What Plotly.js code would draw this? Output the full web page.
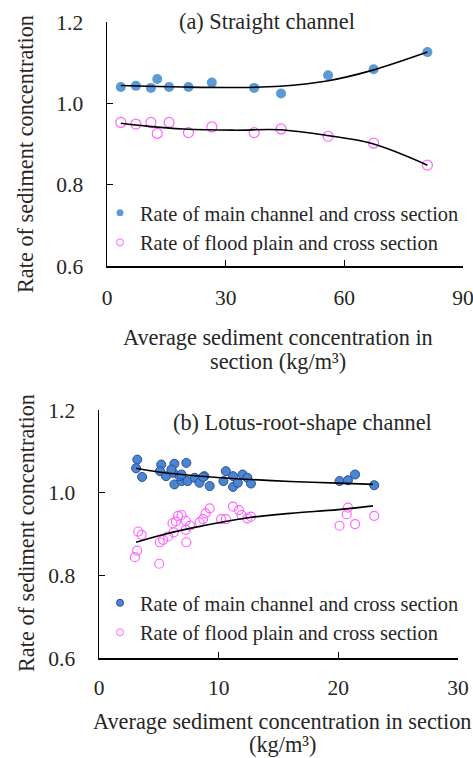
<!DOCTYPE html>
<html>
<head>
<meta charset="utf-8">
<script src="https://cdn.plot.ly/plotly-3.0.1.min.js"></script>
<style>html,body{margin:0;padding:0;background:#fff;}#chart{width:473px;height:758px;}</style>
</head>
<body>
<div id="chart"></div>
<script>
// ---- (a) Straight channel ----
var aX = [3.5, 7.3, 11.1, 12.7, 15.7, 20.6, 26.5, 37.2, 44.0, 55.9, 67.4, 81.0];
var aMain = [1.040, 1.043, 1.038, 1.060, 1.040, 1.040, 1.051, 1.038, 1.024, 1.069, 1.084, 1.126];
var aFlood = [0.953, 0.949, 0.953, 0.926, 0.953, 0.928, 0.942, 0.928, 0.937, 0.919, 0.902, 0.848];
var aTrendX = [3.5, 10, 19.3, 31.9, 43.7, 55.6, 67.0, 81.0];
var aTrendMain = [1.044, 1.042, 1.040, 1.039, 1.042, 1.055, 1.081, 1.126];
var aTrendFlood = [0.951, 0.944, 0.937, 0.934, 0.935, 0.921, 0.901, 0.848];

// ---- (b) Lotus-root-shape channel ----
var bMainX = [3.2, 3.1, 3.6, 5.2, 5.1, 6.3, 5.6, 6.2, 6.3, 6.9, 7.3, 6.75, 7.4, 8.0, 8.4, 8.8, 9.25, 10.6, 10.4, 11.2, 11.2, 12.0, 12.4, 12.7, 11.6, 20.1, 20.8, 21.4, 23.0, 6.05, 6.9, 8.7];
var bMainY = [1.080, 1.059, 1.038, 1.068, 1.052, 1.070, 1.040, 1.048, 1.020, 1.028, 1.072, 1.040, 1.028, 1.036, 1.024, 1.040, 1.016, 1.052, 1.028, 1.040, 1.014, 1.044, 1.036, 1.022, 1.024, 1.028, 1.030, 1.044, 1.018, 1.056, 1.044, 1.038];
var bFloodX = [3.28, 3.56, 3.19, 3.0, 5.03, 5.08, 5.36, 5.78, 6.14, 6.25, 6.42, 6.6, 6.9, 7.25, 7.25, 7.3, 7.6, 8.4, 8.7, 8.9, 9.25, 10.2, 10.6, 11.2, 11.7, 11.9, 12.4, 12.7, 20.1, 20.7, 20.8, 21.4, 23.0];
var bFloodY = [0.906, 0.898, 0.860, 0.844, 0.828, 0.880, 0.886, 0.894, 0.926, 0.904, 0.930, 0.944, 0.946, 0.932, 0.910, 0.880, 0.920, 0.928, 0.936, 0.950, 0.962, 0.936, 0.936, 0.966, 0.958, 0.946, 0.938, 0.942, 0.920, 0.948, 0.964, 0.924, 0.944];
var bTrendX = [3.1, 5, 8, 12.6, 16, 20, 22.9];
var bTrendMain = [1.059, 1.050, 1.041, 1.032, 1.027, 1.023, 1.020];
var bTrendFlood = [0.880, 0.896, 0.916, 0.940, 0.950, 0.959, 0.968];

var legendNames = ['Rate of main channel and cross section', 'Rate of flood plain and cross section'];
var yTicks = [0.6, 0.8, 1.0, 1.2];

var serif = "'Liberation Serif', 'Times New Roman', serif";
var pink = '#FF66FF';
var txt = '#262626';
var FS = 22.3;   // title text size
var LS = 20.4;   // legend text size
var TS = 21.5;   // tick size

function legendOnly(name, marker, leg) {
  return {x: [null], y: [null], type: 'scatter', mode: 'markers', name: name, legend: leg,
    xaxis: leg === 'legend' ? 'x' : 'x2', yaxis: leg === 'legend' ? 'y' : 'y2', marker: marker, hoverinfo: 'skip'};
}

var traces = [
  {x: aX, y: aMain, type: 'scatter', mode: 'markers', showlegend: false, xaxis: 'x', yaxis: 'y',
   marker: {size: 10, color: '#5B9BD5', line: {width: 0}}},
  {x: aX, y: aFlood, type: 'scatter', mode: 'markers', showlegend: false, xaxis: 'x', yaxis: 'y',
   marker: {size: 10, color: 'rgba(0,0,0,0)', line: {width: 1.2, color: pink}}},
  {x: aTrendX, y: aTrendMain, type: 'scatter', mode: 'lines', line: {color: '#000', width: 1.6, shape: 'spline'}, showlegend: false, xaxis: 'x', yaxis: 'y', hoverinfo: 'skip'},
  {x: aTrendX, y: aTrendFlood, type: 'scatter', mode: 'lines', line: {color: '#000', width: 1.6, shape: 'spline'}, showlegend: false, xaxis: 'x', yaxis: 'y', hoverinfo: 'skip'},

  {x: bMainX, y: bMainY, type: 'scatter', mode: 'markers', showlegend: false, xaxis: 'x2', yaxis: 'y2',
   marker: {size: 9, color: '#4A86D0', line: {width: 1, color: '#2B4C9B'}}},
  {x: bFloodX, y: bFloodY, type: 'scatter', mode: 'markers', showlegend: false, xaxis: 'x2', yaxis: 'y2',
   marker: {size: 9, color: 'rgba(0,0,0,0)', line: {width: 1.2, color: pink}}},
  {x: bTrendX, y: bTrendMain, type: 'scatter', mode: 'lines', line: {color: '#000', width: 1.6, shape: 'spline'}, showlegend: false, xaxis: 'x2', yaxis: 'y2', hoverinfo: 'skip'},
  {x: bTrendX, y: bTrendFlood, type: 'scatter', mode: 'lines', line: {color: '#000', width: 1.6, shape: 'spline'}, showlegend: false, xaxis: 'x2', yaxis: 'y2', hoverinfo: 'skip'},

  legendOnly(legendNames[0], {size: 7, color: '#5B9BD5'}, 'legend'),
  legendOnly(legendNames[1], {size: 7, color: 'rgba(0,0,0,0)', line: {width: 1, color: pink}}, 'legend'),
  legendOnly(legendNames[0], {size: 7, color: '#4A86D0', line: {width: 1, color: '#2B4C9B'}}, 'legend2'),
  legendOnly(legendNames[1], {size: 7, color: 'rgba(0,0,0,0)', line: {width: 1, color: pink}}, 'legend2')
];

var W = 473, H = 758;
function px(v){ return v / W; }
function py(v){ return 1 - v / H; }

var axisCommon = {
  showline: true, linecolor: '#000', linewidth: 1.5, showgrid: false, zeroline: false,
  ticks: 'inside', ticklen: 6, tickwidth: 1.5, tickcolor: '#000', ticklabeloverflow: 'allow',
  tickfont: {family: serif, size: TS, color: txt}, mirror: false, automargin: false
};

var legendCommon = {xanchor: 'left', yanchor: 'top', bgcolor: 'rgba(0,0,0,0)',
  font: {family: serif, size: LS, color: txt}, tracegroupgap: 0, itemsizing: 'trace', itemwidth: 30};

function ann(text, x, y, size, angle) {
  return {text: text, x: px(x), y: py(y), xref: 'paper', yref: 'paper', showarrow: false, textangle: angle || 0,
    font: {family: serif, size: size, color: txt}, xanchor: 'center', yanchor: 'middle'};
}

var layout = {
  width: W, height: H,
  margin: {l: 0, r: 0, t: 0, b: 0, autoexpand: false},
  paper_bgcolor: '#fff', plot_bgcolor: 'rgba(0,0,0,0)',
  showlegend: true,
  xaxis: Object.assign({}, axisCommon, {domain: [px(107), px(463)], range: [0, 90], tickvals: [0, 30, 60, 90], anchor: 'y', ticklabelstandoff: 12}),
  yaxis: Object.assign({}, axisCommon, {domain: [py(266), py(22)], range: [0.6, 1.2], tickvals: yTicks, tickformat: '.1f', anchor: 'x', ticklabelstandoff: 18}),
  xaxis2: Object.assign({}, axisCommon, {domain: [px(99), px(458)], range: [0, 30], tickvals: [0, 10, 20, 30], anchor: 'y2', ticklabelstandoff: 10}),
  yaxis2: Object.assign({}, axisCommon, {domain: [py(658), py(410)], range: [0.6, 1.2], tickvals: yTicks, tickformat: '.1f', anchor: 'x2', ticklabelstandoff: 18}),
  legend: Object.assign({}, legendCommon, {x: px(100), y: py(193)}),
  legend2: Object.assign({}, legendCommon, {x: px(100), y: py(583)}),
  annotations: [
    ann('(a) Straight channel', 267, 22, FS),
    ann('(b) Lotus-root-shape channel', 302, 422, FS),
    ann('Rate of sediment concentration', 26, 154, FS, -90),
    ann('Rate of sediment concentration', 26, 533, FS, -90),
    ann('Average sediment concentration in', 278, 337, FS),
    ann('section (kg/m³)', 278, 362, FS),
    ann('Average sediment concentration in section', 282, 721, FS),
    ann('(kg/m³)', 282, 744, FS)
  ]
};

Plotly.newPlot('chart', traces, layout, {displayModeBar: false, staticPlot: true});
</script>
</body>
</html>
